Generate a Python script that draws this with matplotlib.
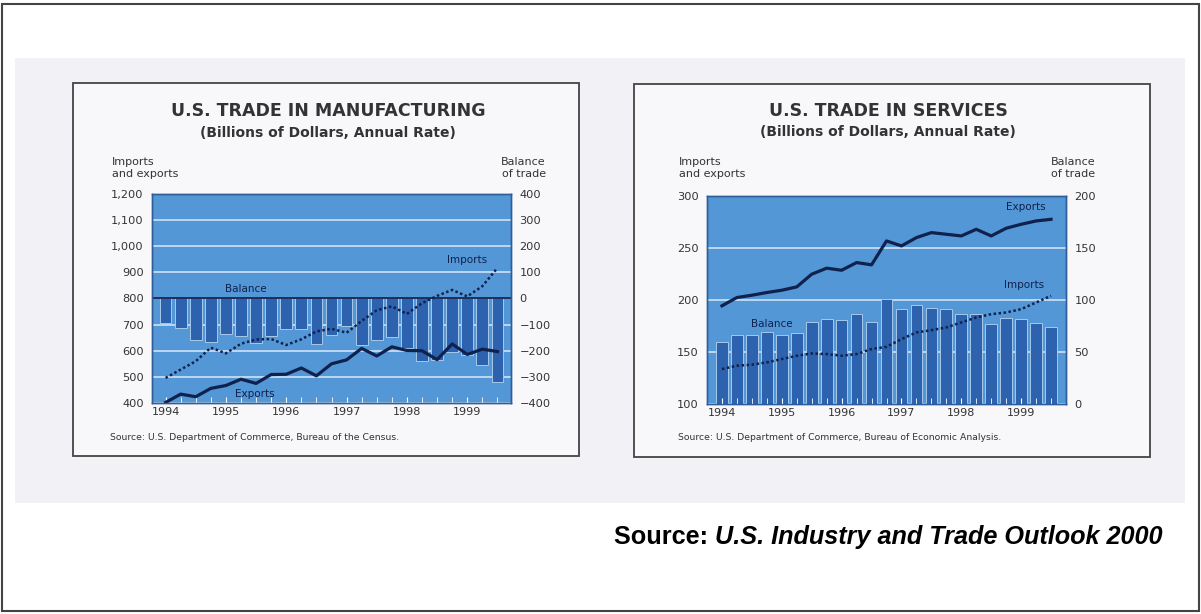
import matplotlib.pyplot as plt
from matplotlib.patches import Rectangle

W, H = 1201, 614

# quarterly data, 1994 Q1 .. 1999 Q3
years = ['1994', '1995', '1996', '1997', '1998', '1999']
mfg_exports = [402, 434, 424, 456, 467, 491, 475, 509, 510, 534, 504, 550,
               565, 609, 580, 615, 601, 600, 566, 626, 586, 606, 597]
mfg_imports = [496, 528, 560, 612, 590, 627, 643, 645, 622, 644, 674, 684,
               669, 714, 755, 770, 741, 782, 810, 833, 808, 847, 917]
mfg_balance = [-95, -113, -157, -166, -134, -142, -170, -145, -116, -116, -176, -138,
               -106, -179, -157, -149, -189, -240, -235, -205, -218, -254, -318]

svc_exports = [194.4, 202.4, 204.6, 207.2, 209.4, 212.6, 224.8, 230.6, 228.6, 236, 233.8, 256.8,
               252, 260, 264.8, 263.2, 261.6, 268, 261.6, 269, 272.8, 276, 277.6]
svc_imports = [133.6, 136.8, 137.8, 140, 143.2, 146.4, 148.6, 148, 146.4, 148, 152.8, 155,
               162.4, 168.8, 171, 173.6, 178.4, 183.2, 186.4, 188, 191.2, 197.6, 204]
svc_balance = [60, 66, 66.6, 68.8, 66.8, 68, 78.6, 82.2, 81, 87, 78.4, 101.2,
               91, 94.8, 92.6, 91, 87, 87, 76.7, 82.3, 81.5, 78.3, 74.5]

BG = '#5397d6'
BAR = '#2c62ae'
GRID = '#c4dcf2'
NAVY = '#10214d'
TXT = '#333333'


def px(x0, y0, x1, y1):
    return [x0 / W, 1 - y1 / H, (x1 - x0) / W, (y1 - y0) / H]


def box(x0, y0, x1, y1, **kw):
    fig.add_artist(Rectangle((x0 / W, 1 - y1 / H), (x1 - x0) / W, (y1 - y0) / H,
                             transform=fig.transFigure, zorder=-5, **kw))


def ftext(x, y, s, **kw):
    kw.setdefault('color', TXT)
    return fig.text(x / W, 1 - y / H, s, **kw)


def panel(rect, exports, imports, balance, lims, blims, lticks, bticks,
          ltick_labels, xlim):
    ax = fig.add_axes(rect)
    axb = ax.twinx()
    ax.set_zorder(axb.get_zorder() + 1)
    ax.patch.set_visible(False)
    axb.patch.set_visible(True)
    axb.set_facecolor(BG)
    x = list(range(len(exports)))

    axb.bar(x, balance, width=0.78, color=BAR, edgecolor='#a6c8ea', linewidth=0.7)
    axb.set_ylim(*blims)
    axb.set_yticks(bticks)
    axb.set_axisbelow(True)
    axb.grid(axis='y', color=GRID, linewidth=1.3)
    axb.tick_params(axis='y', length=0, pad=6, labelsize=8.2, labelcolor=TXT)

    ax.plot(x, exports, color=NAVY, linewidth=2.3)
    ax.plot(x, imports, color=NAVY, linewidth=1.8, linestyle=(0, (1, 1)))
    ax.set_ylim(*lims)
    ax.set_yticks(lticks)
    ax.set_yticklabels(ltick_labels)
    ax.tick_params(axis='y', length=0, pad=6, labelsize=8.2, labelcolor=TXT)
    ax.set_xlim(*xlim)
    ax.set_xticks(range(0, 24, 4))
    ax.set_xticklabels(years)
    ax.set_xticks(x, minor=True)
    ax.tick_params(axis='x', which='both', direction='in', length=4, color='white',
                   labelsize=8, labelcolor=TXT, pad=3)
    for a in (ax, axb):
        for s in a.spines.values():
            s.set_color('#2f5d9a')
            s.set_linewidth(1.0)
    return ax, axb


fig = plt.figure(figsize=(W / 100, H / 100), dpi=100)
plt.rcParams['font.family'] = 'DejaVu Sans'

# scanned page background and frames
box(2, 4, 1199, 611, fill=False, ec='#444444', lw=1.5)
box(15, 58, 1185, 503, fc='#f2f2f6', ec='none')
box(73, 83, 579, 456, fc='#f8f8fb', ec='#444444', lw=1.3)
box(634, 84, 1150, 457, fc='#f8f8fb', ec='#444444', lw=1.3)

# ---- manufacturing ----
ax, axb = panel(px(152, 194, 511, 403), mfg_exports, mfg_imports, mfg_balance,
                (400, 1200), (-400, 400), range(400, 1201, 100), range(-400, 401, 100),
                ['400', '500', '600', '700', '800', '900', '1,000', '1,100', '1,200'],
                (-0.9, 22.9))
axb.axhline(0, color=NAVY, linewidth=1.3)
ax.text(20.0, 948, 'Imports', ha='center', va='center', fontsize=7.5, color=NAVY)
ax.text(5.3, 837, 'Balance', ha='center', va='center', fontsize=7.5, color=NAVY)
ax.text(5.9, 434, 'Exports', ha='center', va='center', fontsize=7.5, color=NAVY)

ftext(328, 111, 'U.S. TRADE IN MANUFACTURING', ha='center', va='center',
      fontsize=12.5, fontweight='bold')
ftext(328, 133, '(Billions of Dollars, Annual Rate)', ha='center', va='center',
      fontsize=10, fontweight='bold')
ftext(112, 168, 'Imports\nand exports', ha='left', va='center', fontsize=8,
      linespacing=1.15)
ftext(546, 168, 'Balance\nof trade', ha='right', va='center', fontsize=8,
      linespacing=1.15, multialignment='right')
ftext(110, 438, 'Source: U.S. Department of Commerce, Bureau of the Census.',
      ha='left', va='center', fontsize=6.7)

# ---- services ----
ax, axb = panel(px(707, 196, 1066, 404), svc_exports, svc_imports, svc_balance,
                (100, 300), (0, 200), range(100, 301, 50), range(0, 201, 50),
                ['100', '150', '200', '250', '300'], (-1.0, 23.0))
ax.text(20.3, 289, 'Exports', ha='center', va='center', fontsize=7.5, color=NAVY)
ax.text(20.2, 214, 'Imports', ha='center', va='center', fontsize=7.5, color=NAVY)
ax.text(3.3, 177, 'Balance', ha='center', va='center', fontsize=7.5, color=NAVY)

ftext(888, 111, 'U.S. TRADE IN SERVICES', ha='center', va='center',
      fontsize=12.5, fontweight='bold')
ftext(888, 132, '(Billions of Dollars, Annual Rate)', ha='center', va='center',
      fontsize=10, fontweight='bold')
ftext(679, 168, 'Imports\nand exports', ha='left', va='center', fontsize=8,
      linespacing=1.15)
ftext(1095, 168, 'Balance\nof trade', ha='right', va='center', fontsize=8,
      linespacing=1.15, multialignment='right')
ftext(678, 438, 'Source: U.S. Department of Commerce, Bureau of Economic Analysis.',
      ha='left', va='center', fontsize=6.7)

# ---- caption ----
t1 = ftext(614, 537, 'Source: ', ha='left', va='center', fontsize=18.2,
           fontweight='bold', color='black', family='Liberation Sans')
bb = t1.get_window_extent(fig.canvas.get_renderer())
fig.text(bb.x1 / W, 1 - 537 / H, 'U.S. Industry and Trade Outlook 2000', ha='left',
         va='center', fontsize=18.2, fontweight='bold', style='italic', color='black',
         family='Liberation Sans')

fig.savefig('out.png', dpi=100)
